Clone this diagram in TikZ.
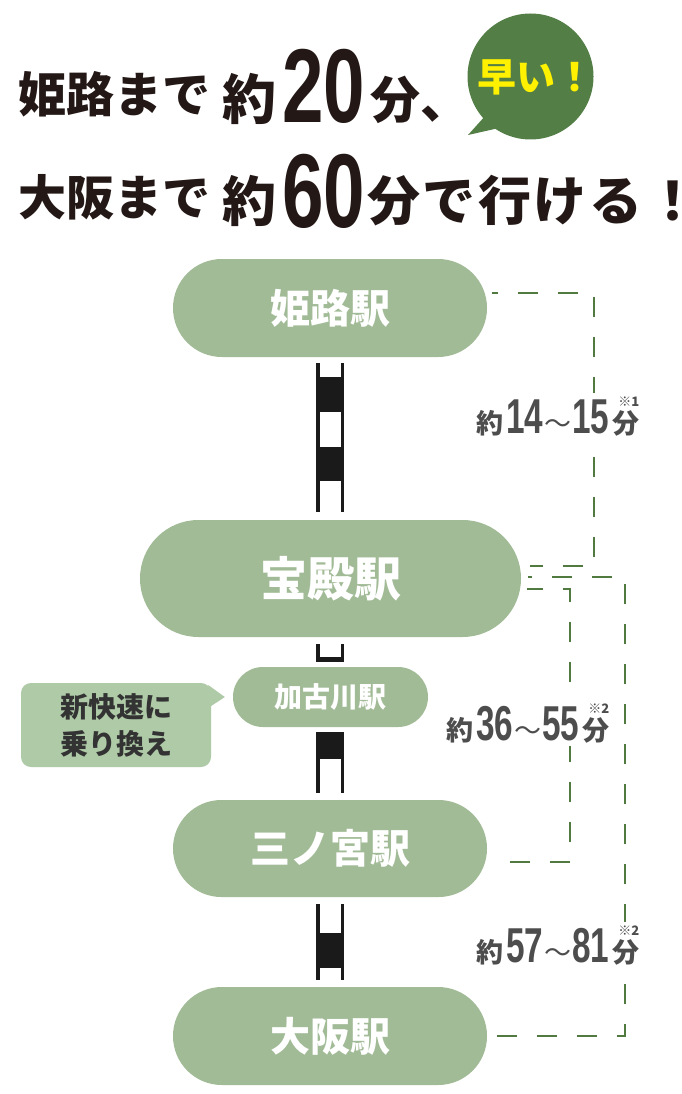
\documentclass[tikz,border=0pt]{standalone}
\usepackage{fontspec}
\usepackage{graphicx}
\newfontfamily\jp{Noto Sans CJK JP}
\newfontfamily\jpp{Noto Sans CJK JP}[Script=CJK,RawFeature=+palt]
\newfontfamily\numf{Liberation Sans}
\usetikzlibrary{calc}
\definecolor{station}{HTML}{A2BB97}
\definecolor{callout}{HTML}{AECAA7}
\definecolor{dashgreen}{HTML}{507A40}
\definecolor{bubblegreen}{HTML}{537E46}
\definecolor{hayai}{HTML}{FFF100}
\definecolor{labelgray}{HTML}{4D4D4D}
\definecolor{notegray}{HTML}{333333}
\definecolor{titleblack}{HTML}{231815}
\definecolor{railblack}{HTML}{1A1A1A}
\newcommand{\fsz}[1]{\fontsize{#1}{#1}\selectfont}
\newcommand{\bignum}[3]{\scalebox{#2}[1]{\numf\bfseries\fsz{#1}#3}}
\newcommand{\timelabel}[3]{{\jp\bfseries\fsz{27}約}\hspace{3pt}\bignum{49}{0.68}{#1}\hspace{1pt}{\jp\fsz{27}～}\hspace{1pt}\bignum{49}{0.68}{#2}\hspace{3pt}{\jp\bfseries\fsz{27}分\llap{\raisebox{27pt}{\jp\fsz{13}※#3}}}}
\begin{document}
\begin{tikzpicture}[x=1pt,y=-1pt,
  titletext/.style={anchor=base west,inner sep=0pt,text=titleblack,font=\jp\bfseries},
  stn/.style={fill=station,text=white,inner sep=0pt,font=\jp\bfseries},
  railline/.style={draw=railblack,line width=3.5pt},
  railblock/.style={fill=railblack},
  dashline/.style={draw=dashgreen,line width=2.6pt,dash pattern=on 20pt off 20pt},
  timelbl/.style={anchor=base west,fill=white,inner sep=3pt,text=labelgray},
]
\useasboundingbox (0,0) rectangle (682,1094);
\fill[white] (0,0) rectangle (682,1094);

% ---- title ----
\node[titletext] (t1a) at (18,113) {\fsz{48}姫路まで};
\node[titletext] (t1b) at (222,120) {\fsz{54}約};
\node[titletext] (t1c) at (282,123) {\bignum{105}{0.71}{20}};
\node[titletext] (t1d) at (370,119) {\fsz{50}分、};

\node[titletext] (t2a) at (18,215) {\fsz{48}大阪まで};
\node[titletext] (t2b) at (222,221) {\fsz{54}約};
\node[titletext] (t2c) at (282,227) {\bignum{105}{0.71}{60}};
\node[titletext] (t2d) at (367,220) {\fsz{53}分\hspace{2.5pt}で\hspace{2.5pt}行\hspace{2.5pt}け\hspace{2.5pt}る\hspace{18pt}{\jpp\bfseries ！}};

% ---- speech bubble ----
\node[circle,fill=bubblegreen,minimum size=126pt,inner sep=0pt] (bubble) at (530.5,76.5) {};
\fill[bubblegreen] (486,115) -- (468,135) -- (499,128) -- cycle;
\node[inner sep=0pt,text=hayai,font=\jp\bfseries] (hayaitext) at (536,77.5) {\fsz{39}早い！};

% ---- stations ----
\node[stn,minimum width=314pt,minimum height=98pt,rounded corners=48.9pt] (himeji) at (330,308) {\fsz{40}姫路駅};
\node[stn,minimum width=381pt,minimum height=117pt,rounded corners=58.4pt] (hoden) at (330.5,578.5) {\fsz{47}宝殿駅};
\node[stn,minimum width=195pt,minimum height=60pt,rounded corners=29.9pt] (kakogawa) at (330.5,697) {\fsz{28}加古川駅};
\node[stn,minimum width=314pt,minimum height=97pt,rounded corners=48.4pt] (sannomiya) at (330,848.5) {\fsz{40}三ノ宮駅};
\node[stn,minimum width=314pt,minimum height=98pt,rounded corners=48.9pt] (osaka) at (330,1036) {\fsz{40}大阪駅};

% ---- callout ----
\node[fill=callout,rounded corners=10pt,minimum width=190pt,minimum height=84pt,inner sep=0pt,align=center,text=notegray,font=\jp\bfseries\fontsize{28}{37}\selectfont] (note) at (116,725) {新快速に\\乗り換え};
\fill[callout] ($(note.east)+(-3,-40)$) -- ($(kakogawa.west)+(-8,0)$) -- ($(note.east)+(0,-19)$) -- cycle;

% ---- rail tracks ----
% himeji - hoden
\fill[railblock] (316,377) rectangle (344,412);
\fill[railblock] (316,447) rectangle (344,481);
\draw[railline] (317.75,363) -- (317.75,512);
\draw[railline] (342.25,363) -- (342.25,512);
% hoden - kakogawa
\fill[railblock] (316,657) rectangle (344,662);
\draw[railline] (317.75,644) -- (317.75,662);
\draw[railline] (342.25,644) -- (342.25,662);
% kakogawa - sannomiya
\fill[railblock] (316,732) rectangle (344,759);
\draw[railline] (317.75,732) -- (317.75,793);
\draw[railline] (342.25,732) -- (342.25,793);
% sannomiya - osaka
\fill[railblock] (316,933) rectangle (344,968);
\draw[railline] (317.75,904) -- (317.75,980);
\draw[railline] (342.25,904) -- (342.25,980);

% ---- dashed time lines ----
\coordinate (a0) at ($(himeji.east)+(5,-15)$);
\coordinate (a1) at (594,293);
\coordinate (a2) at (594,566);
\coordinate (a3) at ($(hoden.east)+(9,-12.5)$);
\draw[dashline,dash phase=14pt] (a0) -- (a1) -- (a2) -- (a3);

\coordinate (b0) at ($(hoden.east)+(7,-1.5)$);
\coordinate (b1) at (625,577);
\coordinate (b2) at (625,1036);
\coordinate (b3) at ($(osaka.east)+(6,0)$);
\draw[dashline,dash phase=16pt] (b0) -- (b1) -- (b2) -- (b3);

\coordinate (c0) at ($(hoden.east)+(6,10.5)$);
\coordinate (c1) at (570,589);
\coordinate (c2) at (570,862);
\coordinate (c3) at ($(sannomiya.east)+(6,13.5)$);
\draw[dashline,dash phase=4pt] (c0) -- (c1) -- (c2) -- (c3);

% ---- time labels ----
\node[timelbl] (la) at (473,433) {\timelabel{14}{15}{1}};
\node[timelbl] (lc) at (443,740) {\timelabel{36}{55}{2}};
\node[timelbl] (lb) at (473,962) {\timelabel{57}{81}{2}};
\end{tikzpicture}
\end{document}
